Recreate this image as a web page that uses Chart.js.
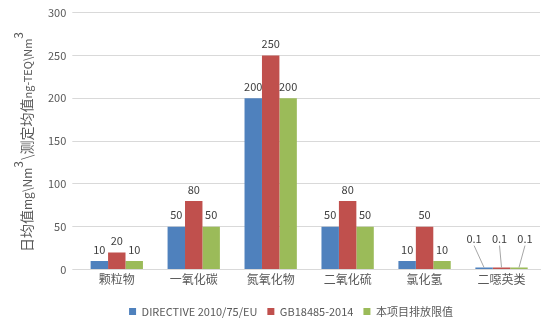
<!DOCTYPE html>
<html>
<head>
<meta charset="utf-8">
<script src="https://cdn.jsdelivr.net/npm/chart.js@4/dist/chart.umd.min.js"></script>
<style>
  html, body { margin: 0; padding: 0; background: #fff; }
  #wrap { width: 553px; height: 333px; }
</style>
</head>
<body>
<div id="wrap"><canvas id="limitChart" width="553" height="333"></canvas></div>
<script>
// pollutant limits, three standards
const categories = ['颗粒物', '一氧化碳', '氮氧化物', '二氧化硫', '氯化氢', '二噁英类'];
const seriesNames = ['DIRECTIVE 2010/75/EU', 'GB18485-2014', '本项目排放限值'];
const directiveValues = [10, 50, 200, 50, 10, 0.1];
const gbValues = [20, 80, 250, 80, 50, 0.1];
const projectValues = [10, 50, 200, 50, 10, 0.1];
const yTicks = [0, 50, 100, 150, 200, 250, 300];

const colors = ['#4f81bd', '#c0504d', '#9bbb59'];
const textColor = '#595959';
const fontFamily = '"Microsoft YaHei", "Noto Sans CJK SC", Calibri, "Liberation Sans", sans-serif';

// small values get pulled-out labels with leader lines
const smallOffsets = [[-10, -29], [-2, -29], [6, -29]];

const valueLabels = {
    id: 'valueLabels',
    afterDatasetsDraw(chart) {
        const ctx = chart.ctx;
        ctx.save();
        ctx.font = '11px ' + fontFamily;
        ctx.fillStyle = '#404040';
        ctx.textAlign = 'center';
        chart.data.datasets.forEach((ds, di) => {
            const meta = chart.getDatasetMeta(di);
            meta.data.forEach((bar, i) => {
                const v = ds.data[i];
                if (v < 1) {
                    const [dx, dy] = smallOffsets[di];
                    const lx = bar.x + dx, ly = bar.y + dy;
                    ctx.strokeStyle = '#a6a6a6';
                    ctx.lineWidth = 1;
                    ctx.beginPath();
                    ctx.moveTo(lx, ly + 7);
                    ctx.lineTo(bar.x, bar.y);
                    ctx.stroke();
                    ctx.textBaseline = 'middle';
                    ctx.fillText(String(v), lx, ly);
                } else {
                    ctx.textBaseline = 'bottom';
                    ctx.fillText(String(v), bar.x, bar.y - 6);
                }
            });
        });
        ctx.restore();
    }
};

// rotated y title with superscripts
const yTitle = {
    id: 'yTitle',
    afterDraw(chart) {
        const ctx = chart.ctx;
        const parts = [
            { t: '日均值', size: 14, rise: 0 },
            { t: 'mg\\Nm', size: 12, rise: 0 },
            { t: '3', size: 12, rise: 9 },
            { t: '\\测定均值', size: 14, rise: 0 },
            { t: 'ng-TEQ\\Nm', size: 11, rise: 0 },
            { t: '3', size: 12, rise: 9 }
        ];
        ctx.save();
        ctx.translate(32, 252);
        ctx.rotate(-Math.PI / 2);
        ctx.fillStyle = textColor;
        ctx.textBaseline = 'alphabetic';
        ctx.textAlign = 'left';
        let x = 0;
        parts.forEach(p => {
            ctx.font = p.size + 'px ' + fontFamily;
            ctx.fillText(p.t, x, -p.rise);
            x += ctx.measureText(p.t).width + (p.rise ? 1 : 0);
        });
        ctx.restore();
    }
};

const datasets = [directiveValues, gbValues, projectValues].map((vals, i) => ({
    label: seriesNames[i],
    data: vals,
    backgroundColor: colors[i],
    borderWidth: 0,
    minBarLength: 2,
    categoryPercentage: 0.68,
    barPercentage: 1.0
}));

new Chart(document.getElementById('limitChart'), {
    type: 'bar',
    data: { labels: categories, datasets: datasets },
    plugins: [valueLabels, yTitle],
    options: {
        responsive: false,
        animation: false,
        layout: { padding: { left: 42, right: 13, top: 8, bottom: 6 } },
        scales: {
            x: {
                grid: { display: false },
                border: { color: '#d9d9d9' },
                ticks: { color: textColor, font: { size: 12, family: fontFamily }, padding: -5 },
                // leave a gap between category names and legend
                afterFit(axis) { axis.height += 14; }
            },
            y: {
                min: 0,
                max: 300,
                afterBuildTicks(axis) { axis.ticks = yTicks.map(v => ({ value: v })); },
                grid: { color: '#d9d9d9', drawTicks: true, tickLength: 6, tickColor: '#d9d9d9' },
                border: { display: false },
                ticks: { color: textColor, font: { size: 11, family: fontFamily }, padding: 6 }
            }
        },
        plugins: {
            tooltip: { enabled: false },
            legend: {
                position: 'bottom',
                labels: {
                    boxWidth: 7,
                    boxHeight: 7,
                    padding: 10,
                    color: textColor,
                    font: { size: 11, family: fontFamily }
                }
            }
        }
    }
});
</script>
</body>
</html>
